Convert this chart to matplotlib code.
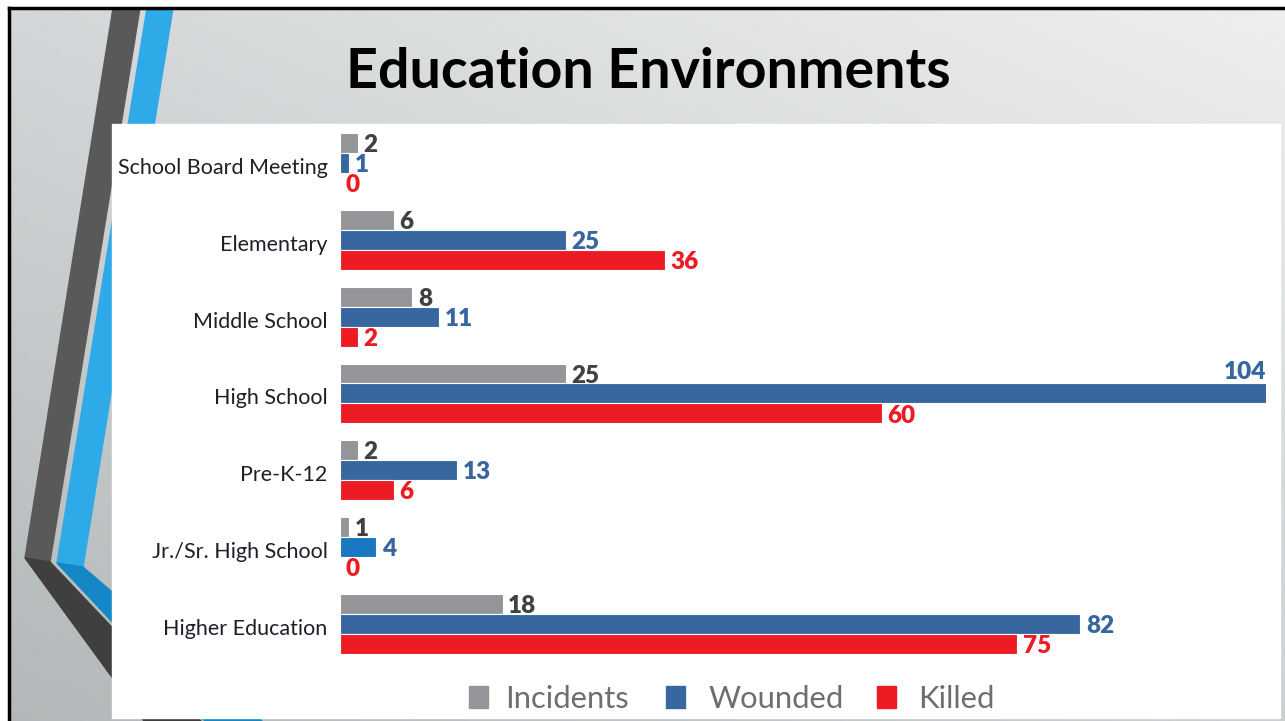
import numpy as np
import matplotlib.pyplot as plt
from matplotlib.patches import Rectangle, Polygon
from matplotlib.transforms import ScaledTranslation

categories = ["School Board Meeting", "Elementary", "Middle School", "High School",
              "Pre-K-12", "Jr./Sr. High School", "Higher Education"]
incidents = [2, 6, 8, 25, 2, 1, 18]
wounded = [1, 25, 11, 104, 13, 4, 82]
killed = [0, 36, 2, 60, 6, 0, 75]
series_names = ["Incidents", "Wounded", "Killed"]

W, H = 1285, 721
fig = plt.figure(figsize=(W / 100, H / 100), dpi=100)

# slide background
bg = fig.add_axes([0, 0, 1, 1])
bg.set_xlim(0, W)
bg.set_ylim(H, 0)
bg.axis("off")
gx, gy = np.meshgrid(np.linspace(0, 1, 200), np.linspace(0, 1, 120))
t = ((1 - gx) * 0.6 + gy * 0.8) / 1.4
light = np.array([0.93, 0.935, 0.94])
dark = np.array([0.70, 0.72, 0.725])
grad = light[None, None, :] * (1 - t[..., None]) + dark[None, None, :] * t[..., None]
bg.imshow(grad, extent=(9, W, H, 8), aspect="auto", zorder=0)

# decorative stripes
bg.add_patch(Polygon([(113, 8), (140, 8), (50, 562), (25, 558)], color="#595959", zorder=1))
bg.add_patch(Polygon([(25, 558), (50, 562), (201, 721), (144, 721)], color="#3f3f3f", zorder=1))
bg.add_patch(Polygon([(147, 8), (173, 8), (83, 567), (57, 563)], color="#2eaae8", zorder=1))
bg.add_patch(Polygon([(57, 563), (83, 567), (262, 721), (205, 721)], color="#1587c6", zorder=1))

# white panel
bg.add_patch(Rectangle((112, 124), 1168, 594, color="white", zorder=2))
bg.plot([9, 9], [8, H], color="black", lw=2.5, zorder=3)
bg.plot([9, W], [8, 8], color="black", lw=2.5, zorder=3)

fig.text(648 / W, 1 - 72 / H, "Education Environments", ha="center", va="center",
         fontsize=40, fontweight="bold", family="Lato", color="black")

# chart
ax = fig.add_axes([340 / W, 1 - 670 / H, (1266 - 340) / W, (670 - 124) / H])
ax.patch.set_alpha(0)
xmax = 102.55
ax.set_xlim(0, xmax)
ax.set_ylim(6.60, -0.508)

colors = ["#939598", "#38679f", "#ed1c24"]
label_colors = ["#414042", "#38679f", "#ed1c24"]
h = 0.26
y = np.arange(len(categories))
for k, vals in enumerate([incidents, wounded, killed]):
    off = (k - 1) * h
    bar_colors = [colors[k]] * len(vals)
    if k == 1:
        bar_colors[5] = "#1a78c2"
    ax.barh(y + off, vals, height=h, color=bar_colors, edgecolor="white", linewidth=0.8)
    for yi, v in zip(y, vals):
        if v > xmax:
            ax.annotate(str(v), xy=(xmax, yi + off - h * 1.05), xytext=(0, 0),
                        textcoords="offset points", ha="right", va="center",
                        fontsize=17.5, fontweight="heavy", family="Lato", color=label_colors[k])
        else:
            ax.annotate(str(v), xy=(v, yi + off), xytext=(4, -1.5),
                        textcoords="offset points", ha="left", va="center",
                        fontsize=17.5, fontweight="heavy", family="Lato", color=label_colors[k],
                        annotation_clip=False)

ax.set_yticks(y)
ax.set_yticklabels(categories, fontsize=15.5, family="Lato", color="#1f1f2a")
ax.tick_params(axis="y", length=0, pad=9)
for lbl in ax.get_yticklabels():
    lbl.set_transform(lbl.get_transform() + ScaledTranslation(0, -0.03, fig.dpi_scale_trans))
ax.set_xticks([])
for s in ax.spines.values():
    s.set_visible(False)

# legend
leg_x = [469, 666, 877]
txt_x = [505, 709, 918]
for k, name in enumerate(series_names):
    bg.add_patch(Rectangle((leg_x[k], 686), 19, 22, color=colors[k], zorder=4))
    bg.text(txt_x[k], 699, name, ha="left", va="center", fontsize=22.3,
            family="Lato", color="#6d6e71", zorder=4)

fig.savefig("out.png", dpi=100)
